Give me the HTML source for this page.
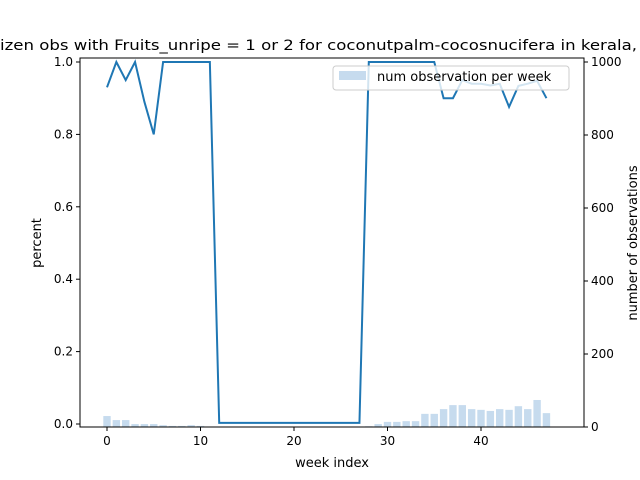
<!DOCTYPE html>
<html><head><meta charset="utf-8"><style>body{margin:0;background:#fff}svg{display:block;font-family:"DejaVu Sans","Liberation Sans",sans-serif}</style></head>
<body>
<svg id="chart" width="640" height="480">
<rect width="640" height="480" fill="#fff"/>
<text x="0" y="50" font-size="14" textLength="637" lengthAdjust="spacingAndGlyphs">izen obs with Fruits_unripe = 1 or 2 for coconutpalm-cocosnucifera in kerala,</text>
<g id="bars"></g><g id="line"></g><g id="axes"></g>
<g>
<rect x="333" y="66" width="236" height="24" rx="3" fill="#fff" fill-opacity="0.8" stroke="#ccc"/>
<rect x="339" y="71" width="27" height="9" fill="#c6dbee"/>
<text x="377" y="81" font-size="13">num observation per week</text>
</g>
</svg>
<script>
const weeks=[...Array(48).keys()];
const percent=[0.93,1,0.95,1,0.89,0.80,1,1,1,1,1,1,0.003,0.003,0.003,0.003,0.003,0.003,0.003,0.003,0.003,0.003,0.003,0.003,0.003,0.003,0.003,0.003,1,1,1,1,1,1,1,1,0.90,0.90,0.95,0.94,0.94,0.935,0.94,0.876,0.934,0.94,0.948,0.90];
const counts=[30,19,19,8,8,8,5,3,3,5,3,0,0,0,0,0,0,0,0,0,0,0,0,0,0,0,0,0,2,8,14,14,16,16,36,36,49,60,60,49,47,44,49,47,57,49,74,38];
const xTicks=[0,10,20,30,40];
const yTicks=[0,0.2,0.4,0.6,0.8,1.0];
const y2Ticks=[0,200,400,600,800,1000];
const L=80,R=584,T=58,B=427;
const x=v=>107+v*9.35;
const y=v=>424-v*362;
const y2=v=>427-v*0.365;
const NS='http://www.w3.org/2000/svg';
function mk(p,t,a){const e=document.createElementNS(NS,t);for(const k in a)e.setAttribute(k,a[k]);p.appendChild(e);return e;}
const bars=document.getElementById('bars');
weeks.forEach((w,i)=>{const h=427-y2(counts[i]);const r=mk(bars,'rect',{x:x(w)-3.7,y:y2(counts[i]),width:7.4,height:h,fill:'#c6dbee'});

});
const ln=document.getElementById('line');
const pl=mk(ln,'polyline',{points:weeks.map((w,i)=>x(w)+','+y(percent[i])).join(' '),fill:'none',stroke:'#1f77b4','stroke-width':2});


const ax=document.getElementById('axes');
const fr=mk(ax,'rect',{x:L,y:T,width:R-L,height:B-T,fill:'none',stroke:'#000','stroke-width':1});


xTicks.forEach(v=>{mk(ax,'line',{x1:x(v),x2:x(v),y1:B,y2:B+4,stroke:'#000'});const t=mk(ax,'text',{x:x(v),y:B+18,'font-size':12,'text-anchor':'middle'});t.textContent=v;

});
yTicks.forEach(v=>{mk(ax,'line',{x1:L-4,x2:L,y1:y(v),y2:y(v),stroke:'#000'});const t=mk(ax,'text',{x:L-7,y:y(v)+4,'font-size':12,'text-anchor':'end'});t.textContent=v.toFixed(1);

});
y2Ticks.forEach(v=>{mk(ax,'line',{x1:R,x2:R+4,y1:y2(v),y2:y2(v),stroke:'#000'});const t=mk(ax,'text',{x:R+7,y:y2(v)+4,'font-size':12});t.textContent=v;

});
const xl=mk(ax,'text',{x:332,y:467,'font-size':13,'text-anchor':'middle'});xl.textContent='week index';


const yl=mk(ax,'text',{x:0,y:0,'font-size':13,'text-anchor':'middle',transform:'translate(41,243) rotate(-90)'});yl.textContent='percent';


const y2l=mk(ax,'text',{x:0,y:0,'font-size':13,'text-anchor':'middle',transform:'translate(637,243) rotate(-90)'});y2l.textContent='number of observations';


</script>
</body></html>
